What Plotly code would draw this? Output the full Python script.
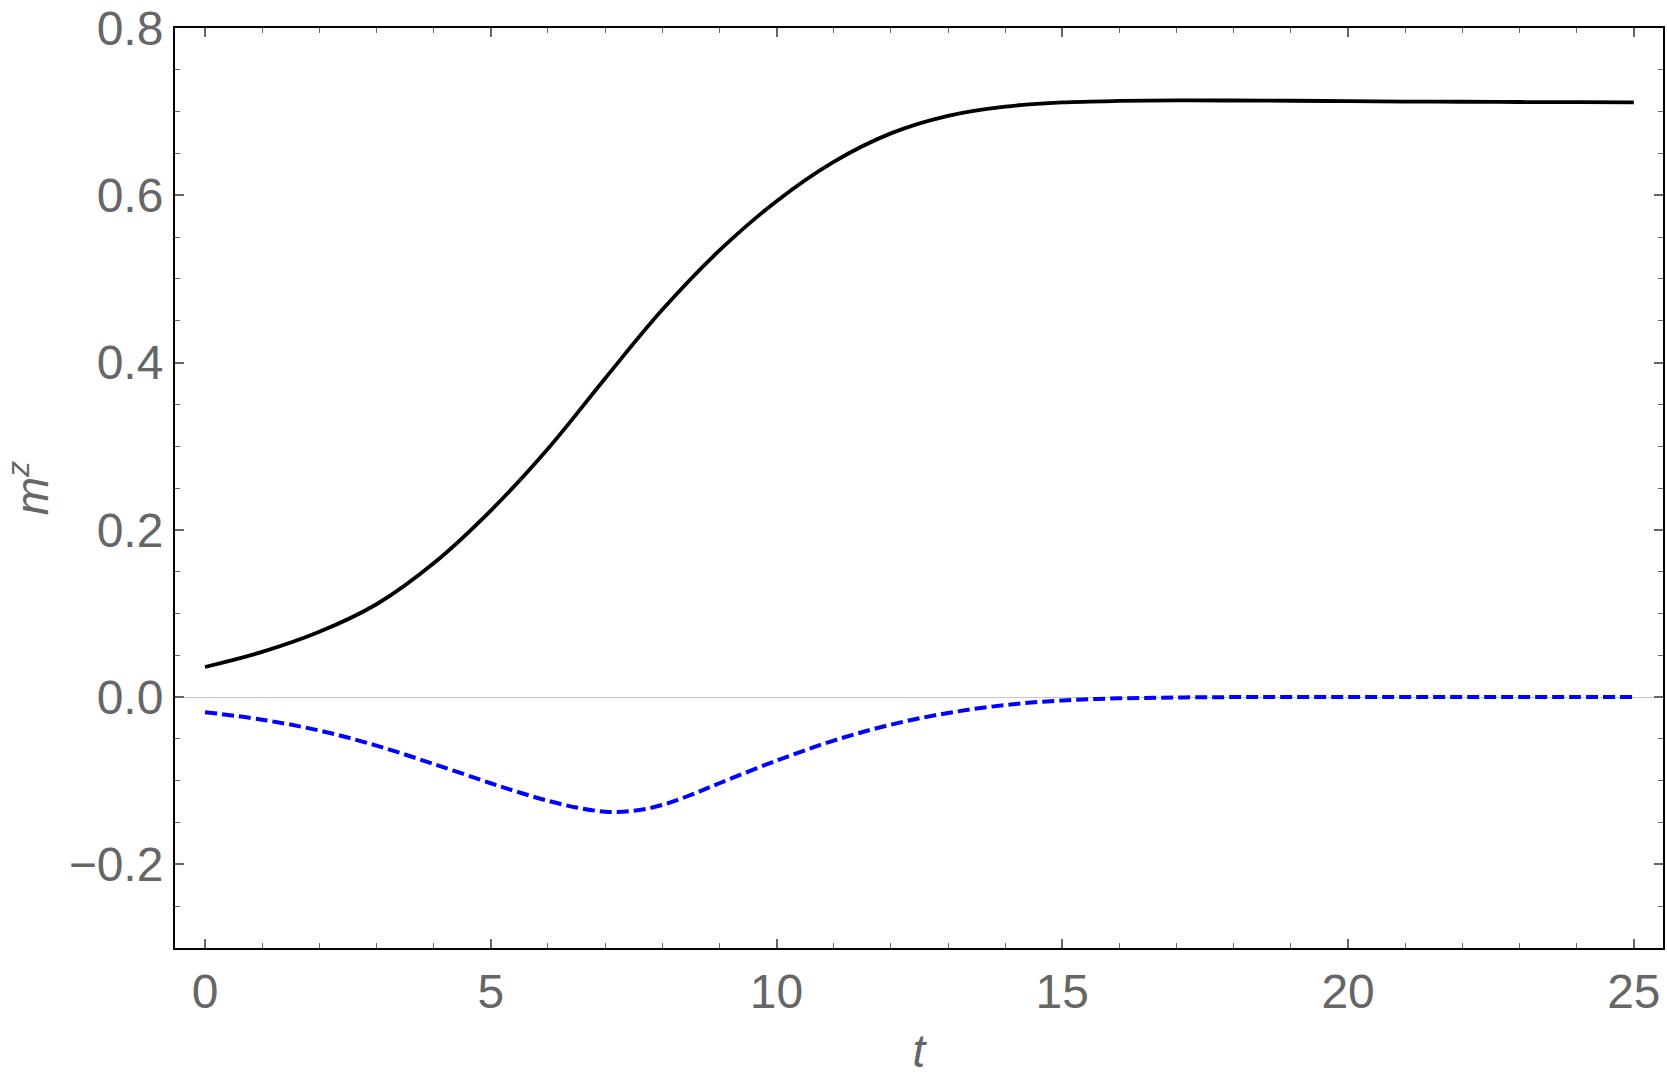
import plotly.graph_objects as go

# time axis
t_black = [0, 1, 2, 3, 4, 5, 6, 7, 8, 9, 10, 11, 12, 13, 14, 15, 16, 17, 18, 19, 20, 21, 22, 23, 24, 25]
m_black = [0.036, 0.054, 0.078, 0.111, 0.160, 0.223, 0.297, 0.381, 0.463, 0.534, 0.593, 0.640, 0.674, 0.695,
           0.706, 0.711, 0.7128, 0.7134, 0.7133, 0.713, 0.7125, 0.712, 0.7118, 0.7115, 0.7113, 0.711]

t_blue = [0, 1, 2, 3, 4, 5, 5.5, 6, 6.5, 7, 7.5, 8, 8.5, 9, 10, 11, 12, 13, 14, 15, 16, 17, 18, 19, 20, 21, 22, 23, 24, 25]
m_blue = [-0.018, -0.027, -0.040, -0.058, -0.080, -0.103, -0.114, -0.124, -0.132, -0.137, -0.136, -0.129, -0.117,
          -0.103, -0.076, -0.052, -0.033, -0.019, -0.0095, -0.004, -0.0015, -0.0005, 0.0, 0.0, 0.0, 0.0, 0.0, 0.0,
          0.0, 0.0]

x_ticks = [0, 5, 10, 15, 20, 25]
y_ticks = [-0.2, 0.0, 0.2, 0.4, 0.6, 0.8]
y_tick_labels = ["\u22120.2", "0.0", "0.2", "0.4", "0.6", "0.8"]

GREY = "#666666"
FONT = "Liberation Sans, Arial, sans-serif"

fig = go.Figure()
fig.add_trace(go.Scatter(x=t_black, y=m_black, mode="lines", line=dict(color="black", width=3.8, shape="spline"),
                         showlegend=False))
fig.add_trace(go.Scatter(x=t_blue, y=m_blue, mode="lines",
                         line=dict(color="#0000ff", width=4, dash="12px,5px", shape="spline"),
                         showlegend=False))

axis_common = dict(
    showline=True, linecolor="black", linewidth=2, mirror="allticks",
    ticks="inside", ticklen=9, tickwidth=1.5, tickcolor=GREY,
    showgrid=False,
    tickfont=dict(family=FONT, size=48, color=GREY),
)

fig.update_xaxes(
    range=[-0.525, 25.51], tickvals=x_ticks, ticktext=[str(v) for v in x_ticks],
    minor=dict(dtick=1, tick0=0, ticks="inside", ticklen=5, tickwidth=1.2, tickcolor=GREY, showgrid=False),
    zeroline=False,
    title=dict(text="<i>t</i>", font=dict(family=FONT, size=46, color=GREY), standoff=18),
    **axis_common,
)
fig.update_yaxes(
    range=[-0.3, 0.8], tickvals=y_ticks, ticktext=y_tick_labels,
    minor=dict(dtick=0.05, tick0=0, ticks="inside", ticklen=5, tickwidth=1.2, tickcolor=GREY, showgrid=False),
    zeroline=True, zerolinecolor="#c8c8c8", zerolinewidth=1.2,
    title=dict(text="<i>m</i><sup><i>z</i></sup>", font=dict(family=FONT, size=46, color=GREY), standoff=35),
    **axis_common,
)

fig.update_layout(
    width=1667, height=1084,
    margin=dict(l=175, r=4, t=28, b=136, autoexpand=False),
    paper_bgcolor="white", plot_bgcolor="white",
)

fig.write_html("out.html")
